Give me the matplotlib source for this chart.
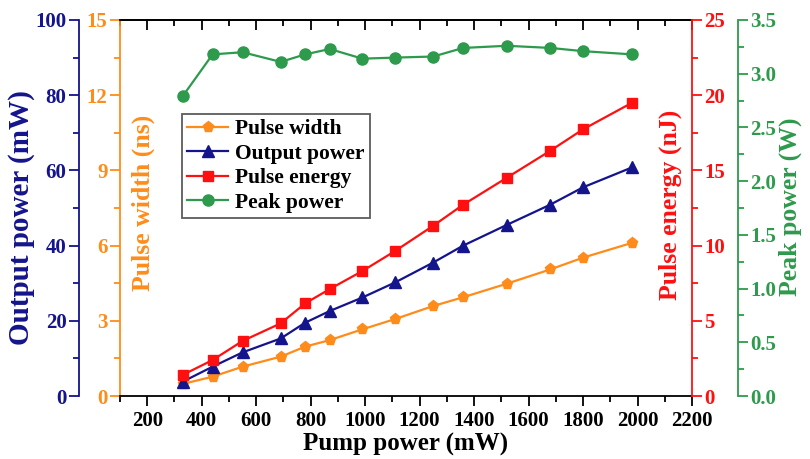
import matplotlib
matplotlib.use("Agg")
import matplotlib.pyplot as plt
from matplotlib.ticker import MultipleLocator, FormatStrFormatter

plt.rcParams['font.family'] = ['Liberation Serif', 'DejaVu Serif']
plt.rcParams['font.weight'] = 'bold'

pump = [330, 440, 550, 690, 780, 870, 990, 1110, 1250, 1360, 1520, 1680, 1800, 1980]
pulse_width = [0.48, 0.77, 1.17, 1.57, 1.97, 2.23, 2.66, 3.07, 3.59, 3.94, 4.48, 5.05, 5.52, 6.11]
output_power = [3.8, 7.8, 11.6, 15.3, 19.5, 22.6, 26.2, 30.2, 35.5, 40.0, 45.5, 50.9, 55.5, 60.8]
pulse_energy = [1.40, 2.39, 3.66, 4.83, 6.16, 7.11, 8.31, 9.64, 11.32, 12.72, 14.51, 16.31, 17.73, 19.50]
peak_power = [2.79, 3.18, 3.20, 3.11, 3.18, 3.23, 3.14, 3.15, 3.16, 3.24, 3.26, 3.24, 3.21, 3.18]

c_orange = '#FF8C1A'
c_blue = '#14148C'
c_red = '#FF1010'
c_green = '#2E9A4C'

fig = plt.figure(figsize=(8.1, 4.59), dpi=100)
ax = fig.add_axes([120/810, 63/459, 572/810, 376/459])
ax_b = ax.twinx()
ax_r = ax.twinx()
ax_g = ax.twinx()

fs_tick = 15
fs_lab = 18.5

def style_y(a, color, major, minor):
    a.yaxis.set_major_locator(MultipleLocator(major))
    a.yaxis.set_minor_locator(MultipleLocator(minor))
    a.tick_params(axis='y', which='both', direction='out', width=1.3, colors=color,
                  labelsize=fs_tick, pad=2)
    a.tick_params(axis='y', which='major', length=7)
    a.tick_params(axis='y', which='minor', length=4)

# host (orange, pulse width)
l1, = ax.plot(pump, pulse_width, '-', color=c_orange, marker='p', ms=8, lw=1.6,
              label='Pulse width')
ax.set_xlim(100, 2200)
ax.set_ylim(0, 15)
ax.xaxis.set_major_locator(MultipleLocator(200))
ax.xaxis.set_minor_locator(MultipleLocator(100))
ax.set_xticks(range(200, 2201, 200))
ax.tick_params(axis='x', which='both', direction='out', width=1.3, labelsize=fs_tick,
               colors='black', pad=4)
ax.tick_params(axis='x', which='major', length=7)
ax.tick_params(axis='x', which='minor', length=4)
style_y(ax, c_orange, 3, 1.5)
ax.spines['left'].set_color(c_orange)
ax.spines['right'].set_visible(False)
for s in ax.spines.values():
    s.set_linewidth(1.3)
ax.set_xlabel('Pump power (mW)', fontsize=18, fontweight='bold', labelpad=1)
ax.set_ylabel('Pulse width (ns)', fontsize=fs_lab, fontweight='bold', color=c_orange)
ax.yaxis.set_label_coords(23/572, (396-203)/376)
ax.yaxis.label.set_verticalalignment('center')

secx = ax.secondary_xaxis('top')
secx.xaxis.set_major_locator(MultipleLocator(200))
secx.xaxis.set_minor_locator(MultipleLocator(100))
secx.tick_params(which='both', direction='in', width=1.3, labeltop=False)
secx.tick_params(which='major', length=7)
secx.tick_params(which='minor', length=4)
secx.spines['top'].set_linewidth(1.3)

# blue (output power) on an offset left axis
l2, = ax_b.plot(pump, output_power, '-', color=c_blue, marker='^', ms=8.5, lw=1.6,
                label='Output power')
ax_b.set_ylim(0, 100)
ax_b.yaxis.set_label_position('left')
ax_b.yaxis.set_ticks_position('left')
ax_b.spines['left'].set_position(('axes', -41/572))
ax_b.spines['left'].set_visible(True)
ax_b.spines['left'].set_color(c_blue)
ax_b.spines['left'].set_linewidth(1.3)
for k in ('right', 'top', 'bottom'):
    ax_b.spines[k].set_visible(False)
style_y(ax_b, c_blue, 20, 10)
ax_b.set_ylabel('Output power (mW)', fontsize=21, fontweight='bold', color=c_blue)
ax_b.yaxis.set_label_coords(-98/572, (396-218)/376)
ax_b.yaxis.label.set_verticalalignment('center')

# red (pulse energy) on right axis
l3, = ax_r.plot(pump, pulse_energy, '-', color=c_red, marker='s', ms=7, lw=1.6,
                label='Pulse energy')
ax_r.set_ylim(0, 25)
ax_r.spines['right'].set_color(c_red)
ax_r.spines['right'].set_linewidth(1.3)
for k in ('left', 'top', 'bottom'):
    ax_r.spines[k].set_visible(False)
style_y(ax_r, c_red, 5, 2.5)
ax_r.set_ylabel('Pulse energy (nJ)', fontsize=fs_lab, fontweight='bold', color=c_red)
ax_r.yaxis.set_label_coords((670-120)/572, (396-205)/376)
ax_r.yaxis.label.set_verticalalignment('center')

# green (peak power) on offset right axis
l4, = ax_g.plot(pump, peak_power, '-', color=c_green, marker='o', ms=8, lw=1.6,
                label='Peak power')
ax_g.set_ylim(0, 3.5)
ax_g.spines['right'].set_position(('axes', 1 + 46/572))
ax_g.spines['right'].set_color(c_green)
ax_g.spines['right'].set_linewidth(1.3)
for k in ('left', 'top', 'bottom'):
    ax_g.spines[k].set_visible(False)
style_y(ax_g, c_green, 0.5, 0.25)
ax_g.yaxis.set_major_formatter(FormatStrFormatter('%.1f'))
ax_g.set_ylabel('Peak power (W)', fontsize=fs_lab, fontweight='bold', color=c_green)
ax_g.yaxis.set_label_coords((790-120)/572, (396-207)/376)
ax_g.yaxis.label.set_verticalalignment('center')

leg = ax_g.legend(handles=[l1, l2, l3, l4], loc='upper left',
                  bbox_to_anchor=(62/572, (396-114)/376), fontsize=15.5,
                  frameon=True, fancybox=False, edgecolor='#333333',
                  handlelength=1.9, handletextpad=0.3, borderpad=0.25,
                  labelspacing=0.2, borderaxespad=0)
leg.get_frame().set_linewidth(1.3)
for t in leg.get_texts():
    t.set_fontweight('bold')

fig.savefig('out.png', dpi=100)
